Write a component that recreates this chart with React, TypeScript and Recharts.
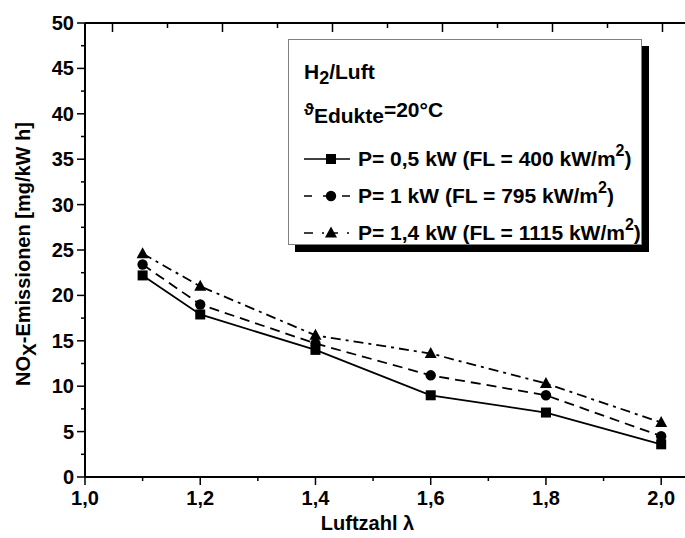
import React from 'react';
import { LineChart, Line, XAxis, YAxis, Legend, Label, ReferenceLine } from 'recharts';

const lambdaValues = [1.1, 1.2, 1.4, 1.6, 1.8, 2.0];
const noxP05 = [22.2, 17.9, 14.0, 9.0, 7.1, 3.6];
const noxP1 = [23.4, 19.0, 14.7, 11.2, 9.0, 4.5];
const noxP14 = [24.6, 21.0, 15.6, 13.6, 10.3, 6.0];

const xTicks = [1.0, 1.1, 1.2, 1.3, 1.4, 1.5, 1.6, 1.7, 1.8, 1.9, 2.0];
// top (mirror) axis of the original plot runs 0.95 .. 2.05 over the same width
const topTicks = [1.0, 1.1, 1.2, 1.3, 1.4, 1.5, 1.6, 1.7, 1.8, 1.9, 2.0];
const yTicks = [0, 2.5, 5, 7.5, 10, 12.5, 15, 17.5, 20, 22.5, 25, 27.5, 30, 32.5, 35, 37.5, 40, 42.5, 45, 47.5, 50];

const seriesNames = [
  'P= 0,5 kW (FL = 400 kW/m',
  'P= 1 kW (FL = 795 kW/m',
  'P= 1,4 kW (FL = 1115 kW/m',
];

const data = lambdaValues.map((x, i) => ({ x, a: noxP05[i], b: noxP1[i], c: noxP14[i] }));

const X_DOMAIN: [number, number] = [1.0, 2.05];
const TOP_DOMAIN: [number, number] = [0.95, 2.05];
const Y_DOMAIN: [number, number] = [0, 50];

const CHART_W = 700;
const CHART_H = 538;
const MARGIN = { top: 23, right: 10, bottom: 60, left: 0 };
const Y_AXIS_W = 85;
const PLOT_W = CHART_W - MARGIN.left - MARGIN.right - Y_AXIS_W;

const FONT = '"Liberation Sans", Arial, Helvetica, sans-serif';
const FS = 20;
const LFS = 21;

const isMajorX = (v: number) => Math.round(v * 10) % 2 === 0;
const fmtX = (v: number) => v.toFixed(1).replace('.', ',');

const BottomTick = (props: any) => {
  const { x, y, payload } = props;
  const v = payload.value;
  const major = isMajorX(v);
  return (
    <g>
      <line x1={x} y1={y} x2={x} y2={y + (major ? 8 : 4)} stroke="#000" strokeWidth={1.5} />
      {major && (
        <text x={x} y={y + 28} textAnchor="middle" fontFamily={FONT} fontWeight="bold" fontSize={FS} fill="#000">
          {fmtX(v)}
        </text>
      )}
    </g>
  );
};

const LeftTick = (props: any) => {
  const { x, y, payload } = props;
  const major = payload.value % 5 === 0;
  return (
    <g>
      <line x1={x} y1={y} x2={x - (major ? 8 : 4)} y2={y} stroke="#000" strokeWidth={1.5} />
      {major && (
        <text x={x - 11} y={y + 7} textAnchor="end" fontFamily={FONT} fontWeight="bold" fontSize={FS} fill="#000">
          {payload.value}
        </text>
      )}
    </g>
  );
};

const SquareDot = (props: any) => {
  const { cx, cy } = props;
  if (cx == null || cy == null) return null;
  return <rect x={cx - 5} y={cy - 5} width={10} height={10} fill="#000" />;
};
const CircleDot = (props: any) => {
  const { cx, cy } = props;
  if (cx == null || cy == null) return null;
  return <circle cx={cx} cy={cy} r={5.2} fill="#000" />;
};
const TriDot = (props: any) => {
  const { cx, cy } = props;
  if (cx == null || cy == null) return null;
  return <polygon points={`${cx},${cy - 6.5} ${cx + 6},${cy + 4.5} ${cx - 6},${cy + 4.5}`} fill="#000" />;
};

const DASH = '10 6';
const DASHDOT = '10 5 3 5';

const LegendBox = () => {
  const rowStyle: React.CSSProperties = {
    position: 'absolute',
    left: 15,
    whiteSpace: 'nowrap',
    fontFamily: FONT,
    fontWeight: 'bold',
    fontSize: LFS,
    color: '#000',
    lineHeight: '24px',
  };
  const sample = (kind: number) => (
    <svg width={48} height={16} style={{ position: 'absolute', left: 0, top: 4 }}>
      <line
        x1={0}
        y1={8}
        x2={46}
        y2={8}
        stroke="#000"
        strokeWidth={1.6}
        strokeDasharray={kind === 0 ? undefined : kind === 1 ? '8 11 0 0' : '9 9 2 5'}
      />
      {kind === 0 && <rect x={22} y={3} width={10} height={10} fill="#000" />}
      {kind === 1 && <circle cx={27} cy={8} r={5.2} fill="#000" />}
      {kind === 2 && <polygon points="27,1.5 33,12.5 21,12.5" fill="#000" />}
    </svg>
  );
  const entries = [0, 1, 2];
  const tops = [107, 144, 181];
  return (
    <div
      style={{
        position: 'relative',
        width: 354,
        height: 206,
        boxSizing: 'border-box',
        border: '1px solid #808080',
        background: '#fff',
        boxShadow: '7px 7px 0 #000',
      }}
    >
      <div style={{ ...rowStyle, top: 20 }}>
        H<span style={{ position: 'relative', top: 5, fontSize: 18 }}>2</span>/Luft
      </div>
      <div style={{ ...rowStyle, top: 58 }}>
        <span style={{ fontSize: 17, position: 'relative', top: -2 }}>ϑ</span>
        <span style={{ position: 'relative', top: 6 }}>Edukte</span>
        <span>=20°C</span>
      </div>
      {entries.map((k) => (
        <div key={k} style={{ ...rowStyle, top: tops[k], width: 340, height: 24 }}>
          {sample(k)}
          <span style={{ position: 'absolute', left: 54 }}>
            {seriesNames[k]}
            <sup style={{ fontSize: 16, verticalAlign: 'baseline', position: 'relative', top: -10 }}>2</sup>)
          </span>
        </div>
      ))}
    </div>
  );
};

export default function App() {
  return (
    <div style={{ position: 'absolute', left: 0, top: 0, width: 685, height: 538, overflow: 'hidden', background: '#fff' }}>
      <LineChart width={CHART_W} height={CHART_H} data={data} margin={MARGIN}>
        <XAxis
          dataKey="x"
          type="number"
          domain={X_DOMAIN}
          ticks={xTicks}
          interval={0}
          height={1}
          tickSize={0}
          tickMargin={0}
          tick={<BottomTick />}
          tickLine={false}
          axisLine={{ stroke: '#000', strokeWidth: 2 }}
          allowDataOverflow
        >
          <Label
            content={(p: any) => {
              const vb = p.viewBox || { x: 85, y: 477, width: 605 };
              return (
                <text x={vb.x + vb.width / 2 - 20} y={vb.y + 53} textAnchor="middle" fontFamily={FONT} fontWeight="bold" fontSize={FS} fill="#000">
                  Luftzahl λ
                </text>
              );
            }}
          />
        </XAxis>
        <YAxis
          type="number"
          domain={Y_DOMAIN}
          ticks={yTicks}
          interval={0}
          width={Y_AXIS_W}
          tickSize={0}
          tickMargin={0}
          tick={<LeftTick />}
          tickLine={false}
          axisLine={{ stroke: '#000', strokeWidth: 2 }}
        >
          <Label
            content={(p: any) => {
              const vb = p.viewBox || { x: 0, y: 23, width: 85, height: 454 };
              const cy = vb.y + vb.height / 2 + 4;
              const left = vb.x + vb.width;
              const top = vb.y;
              const span = TOP_DOMAIN[1] - TOP_DOMAIN[0];
              return (
                <g>
                  <text transform={`translate(30, ${cy}) rotate(-90)`} textAnchor="middle" fontFamily={FONT} fontWeight="bold" fontSize={FS} fill="#000">
                    NO<tspan dy={6} fontSize={19}>X</tspan>
                    <tspan dy={-6}>-Emissionen [mg/kW h]</tspan>
                  </text>
                  {topTicks.map((t) => {
                    const tx = left + ((t - TOP_DOMAIN[0]) / span) * PLOT_W;
                    return (
                      <line
                        key={`top-${t}`}
                        x1={tx}
                        y1={top}
                        x2={tx}
                        y2={top + (isMajorX(t) ? 9 : 5)}
                        stroke="#000"
                        strokeWidth={1.5}
                      />
                    );
                  })}
                </g>
              );
            }}
          />
        </YAxis>
        <ReferenceLine y={Y_DOMAIN[1]} stroke="#000" strokeWidth={2} />
        <Legend
          layout="vertical"
          align="center"
          verticalAlign="middle"
          content={() => <LegendBox />}
          wrapperStyle={{ position: 'absolute', left: 288, top: 39, width: 354, height: 206 }}
        />
        <Line dataKey="a" name={seriesNames[0]} stroke="#000" strokeWidth={1.8} dot={<SquareDot />} isAnimationActive={false} />
        <Line dataKey="b" name={seriesNames[1]} stroke="#000" strokeWidth={1.8} strokeDasharray={DASH} dot={<CircleDot />} isAnimationActive={false} />
        <Line dataKey="c" name={seriesNames[2]} stroke="#000" strokeWidth={1.8} strokeDasharray={DASHDOT} dot={<TriDot />} isAnimationActive={false} />
      </LineChart>
    </div>
  );
}
